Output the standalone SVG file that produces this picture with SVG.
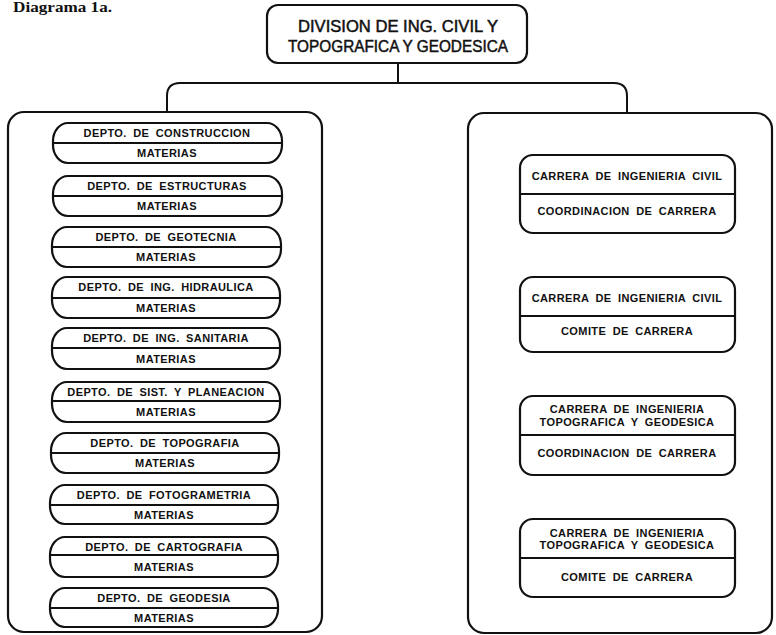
<svg xmlns="http://www.w3.org/2000/svg" width="776" height="635" viewBox="0 0 776 635">
<style>
.bx{fill:none;stroke:#111;stroke-width:2.2}
.ln{fill:none;stroke:#111;stroke-width:2}
.t{font-family:"Liberation Sans",Arial,sans-serif;font-weight:bold;font-size:11px;letter-spacing:0.4px;word-spacing:3px;fill:#111;text-anchor:middle}
.h{font-family:"Liberation Sans",Arial,sans-serif;font-size:17px;fill:#111;stroke:#111;stroke-width:0.5;text-anchor:middle}
.cap{font-family:"Liberation Serif","Times New Roman",serif;font-weight:bold;font-size:15px;fill:#111}
</style>
<rect width="776" height="635" fill="#fff"/>
<text class="cap" x="13" y="12" textLength="99" lengthAdjust="spacingAndGlyphs">Diagrama 1a.</text>

<g id="division">
<rect class="bx" x="267" y="5" width="260" height="58" rx="11"/>
<text class="h" x="398" y="32" textLength="200" lengthAdjust="spacingAndGlyphs">DIVISION DE ING. CIVIL Y</text>
<text class="h" x="398" y="52" textLength="220" lengthAdjust="spacingAndGlyphs">TOPOGRAFICA Y GEODESICA</text>
</g>

<g id="connectors">
<path class="ln" d="M398,63 V83"/>
<path class="ln" d="M167,112 V96 Q167,83 180,83 H614 Q627,83 627,96 V113"/>
</g>

<g id="departamentos">
<rect class="bx" x="8" y="112" width="314" height="520" rx="16"/>
</g>

<g id="carreras">
<rect class="bx" x="468" y="113" width="304" height="520" rx="16"/>
</g>

<g id="d1"><rect class="bx" x="53" y="123" width="229" height="40" rx="15" ry="18"/><path class="ln" d="M53,143 H282"/><text class="t" x="167" y="137">DEPTO. DE CONSTRUCCION</text><text class="t" x="167" y="157">MATERIAS</text></g>
<g id="d2"><rect class="bx" x="53" y="176" width="229" height="40" rx="15" ry="18"/><path class="ln" d="M53,196 H282"/><text class="t" x="167" y="190">DEPTO. DE ESTRUCTURAS</text><text class="t" x="167" y="210">MATERIAS</text></g>
<g id="d3"><rect class="bx" x="52" y="227" width="229" height="40" rx="15" ry="18"/><path class="ln" d="M52,247 H281"/><text class="t" x="166" y="241">DEPTO. DE GEOTECNIA</text><text class="t" x="166" y="261">MATERIAS</text></g>
<g id="d4"><rect class="bx" x="52" y="277" width="228" height="41" rx="15" ry="18"/><path class="ln" d="M52,298 H280"/><text class="t" x="166" y="291">DEPTO. DE ING. HIDRAULICA</text><text class="t" x="166" y="312">MATERIAS</text></g>
<g id="d5"><rect class="bx" x="52" y="328" width="228" height="41" rx="15" ry="18"/><path class="ln" d="M52,348 H280"/><text class="t" x="166" y="342">DEPTO. DE ING. SANITARIA</text><text class="t" x="166" y="363">MATERIAS</text></g>
<g id="d6"><rect class="bx" x="52" y="382" width="228" height="40" rx="15" ry="18"/><path class="ln" d="M52,401 H280"/><text class="t" x="166" y="396">DEPTO. DE SIST. Y PLANEACION</text><text class="t" x="166" y="416">MATERIAS</text></g>
<g id="d7"><rect class="bx" x="51" y="433" width="228" height="40" rx="15" ry="18"/><path class="ln" d="M51,453 H279"/><text class="t" x="165" y="447">DEPTO. DE TOPOGRAFIA</text><text class="t" x="165" y="467">MATERIAS</text></g>
<g id="d8"><rect class="bx" x="50" y="485" width="228" height="39" rx="15" ry="18"/><path class="ln" d="M50,505 H278"/><text class="t" x="164" y="499">DEPTO. DE FOTOGRAMETRIA</text><text class="t" x="164" y="519">MATERIAS</text></g>
<g id="d9"><rect class="bx" x="50" y="537" width="228" height="40" rx="15" ry="18"/><path class="ln" d="M50,555 H278"/><text class="t" x="164" y="551">DEPTO. DE CARTOGRAFIA</text><text class="t" x="164" y="571">MATERIAS</text></g>
<g id="d10"><rect class="bx" x="50" y="588" width="228" height="39" rx="15" ry="18"/><path class="ln" d="M50,608 H278"/><text class="t" x="164" y="602">DEPTO. DE GEODESIA</text><text class="t" x="164" y="622">MATERIAS</text></g>

<g id="c1"><rect class="bx" x="520" y="155" width="215" height="78" rx="13"/><path class="ln" d="M520,194 H735"/><text class="t" x="627" y="180">CARRERA DE INGENIERIA CIVIL</text><text class="t" x="627" y="215">COORDINACION DE CARRERA</text></g>
<g id="c2"><rect class="bx" x="520" y="277" width="215" height="75" rx="13"/><path class="ln" d="M520,316 H735"/><text class="t" x="627" y="302">CARRERA DE INGENIERIA CIVIL</text><text class="t" x="627" y="335">COMITE DE CARRERA</text></g>
<g id="c3"><rect class="bx" x="520" y="396" width="215" height="79" rx="13"/><path class="ln" d="M520,435 H735"/><text class="t" x="627" y="413">CARRERA DE INGENIERIA</text><text class="t" x="627" y="426" word-spacing="1">TOPOGRAFICA Y GEODESICA</text><text class="t" x="627" y="457">COORDINACION DE CARRERA</text></g>
<g id="c4"><rect class="bx" x="520" y="519" width="215" height="78" rx="13"/><path class="ln" d="M520,558 H735"/><text class="t" x="627" y="537">CARRERA DE INGENIERIA</text><text class="t" x="627" y="549" word-spacing="1">TOPOGRAFICA Y GEODESICA</text><text class="t" x="627" y="581">COMITE DE CARRERA</text></g>
</svg>
